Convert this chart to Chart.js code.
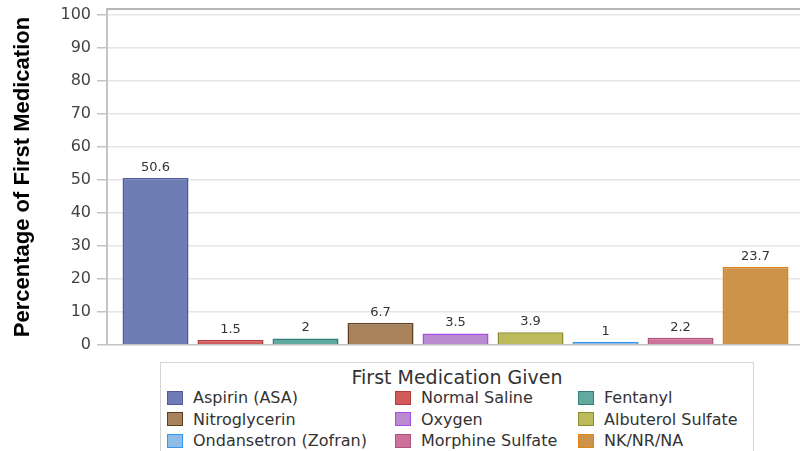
<!DOCTYPE html>
<html>
<head>
<meta charset="utf-8">
<script src="https://cdn.jsdelivr.net/npm/chart.js@4"></script>
<style>
  body { margin: 0; background: #fff; }
  #wrap { position: relative; width: 800px; height: 451px; overflow: hidden; }
  #legend {
    position: absolute; left: 160px; top: 362px; width: 594px; height: 110px;
    border: 1px solid #d4d4d4; box-sizing: border-box; background: #fff;
    font-family: 'DejaVu Sans', sans-serif; color: #333;
  }
  #legend .title {
    position: absolute; top: 3px; left: 0; width: 100%; text-align: center;
    font-size: 19px; line-height: 22px;
  }
  #legend .items {
    position: absolute; top: 24px; left: 6px;
    display: grid; grid-template-columns: 228px 183px 170px; grid-auto-rows: 21.5px;
  }
  #legend .item { display: flex; align-items: center; font-size: 16px; white-space: nowrap; }
  #legend .swatch { width: 16px; height: 14px; box-sizing: border-box; border: 1.5px solid; margin-right: 10px; }
</style>
</head>
<body>
<div id="wrap">
  <canvas id="chart" width="800" height="451"></canvas>
  <div id="legend"></div>
</div>
<script>
const medications = ['Aspirin (ASA)', 'Normal Saline', 'Fentanyl', 'Nitroglycerin', 'Oxygen',
                     'Albuterol Sulfate', 'Ondansetron (Zofran)', 'Morphine Sulfate', 'NK/NR/NA'];
const percentages = [50.6, 1.5, 2, 6.7, 3.5, 3.9, 1, 2.2, 23.7];
const fillColors = ['#6f7db5', '#d25b5b', '#62a9a0', '#a8825a', '#b98ad0',
                    '#bcbb5c', '#8fbde8', '#cc7199', '#cd9449'];
const borderColors = ['#4e5c9c', '#b53a3a', '#2f7f76', '#5e4020', '#a64ee8',
                      '#8d8c2c', '#3597ef', '#b3527f', '#e0841a'];
const legendTitle = 'First Medication Given';
const axisTitle = 'Percentage of First Medication';

Chart.defaults.font.family = "'DejaVu Sans', sans-serif";

// valeurs au-dessus des barres
const valueLabels = {
    id: 'valueLabels',
    afterDatasetsDraw(chart) {
        const ctx = chart.ctx;
        const meta = chart.getDatasetMeta(0);
        ctx.save();
        ctx.font = "13px 'DejaVu Sans', sans-serif";
        ctx.fillStyle = '#333';
        ctx.textAlign = 'center';
        ctx.textBaseline = 'alphabetic';
        meta.data.forEach((bar, i) => {
            ctx.fillText(String(percentages[i]), bar.x, bar.y - 7);
        });
        ctx.restore();
    }
};

// trait du cadre en haut
const topFrame = {
    id: 'topFrame',
    afterDraw(chart) {
        const { ctx, chartArea } = chart;
        ctx.save();
        ctx.strokeStyle = '#b6b6b6';
        ctx.lineWidth = 2;
        ctx.beginPath();
        ctx.moveTo(chartArea.left, chartArea.top);
        ctx.lineTo(chartArea.right, chartArea.top);
        ctx.stroke();
        ctx.restore();
    }
};

new Chart(document.getElementById('chart'), {
    type: 'bar',
    data: {
        datasets: [{
            label: legendTitle,
            data: percentages.map((v, i) => ({ x: i, y: v })),
            backgroundColor: fillColors,
            borderColor: borderColors,
            borderWidth: 1.5,
            barPercentage: 0.88,
            categoryPercentage: 1
        }]
    },
    options: {
        responsive: false,
        animation: false,
        layout: { padding: { top: 9, bottom: 106, right: 0, left: 0 } },
        plugins: {
            legend: { display: false },
            tooltip: { enabled: false }
        },
        scales: {
            x: {
                type: 'linear',
                display: false,
                offset: false,
                min: -0.647,
                max: 8.593
            },
            y: {
                min: 0,
                max: 101.8,
                afterFit: s => {
                    s.width = 107;
                    s.paddingTop = 0;
                    s.paddingBottom = 0;
                },
                ticks: {
                    stepSize: 10,
                    includeBounds: false,
                    color: '#444',
                    padding: 6,
                    font: { size: 16 }
                },
                grid: {
                    color: c => c.tick && c.tick.value === 0 ? '#c4c4c4' : '#e6e6e6',
                    tickColor: '#c4c4c4',
                    tickLength: 10,
                    lineWidth: 1.5
                },
                border: { color: '#c4c4c4', width: 2 },
                title: {
                    display: true,
                    text: axisTitle,
                    color: '#000',
                    font: { family: "'Liberation Sans', Arial, sans-serif", size: 22, weight: 'bold' },
                    padding: { top: 10, bottom: 0 }
                }
            }
        }
    },
    plugins: [valueLabels, topFrame]
});

// légende HTML sur trois colonnes
const legend = document.getElementById('legend');
legend.innerHTML = `<div class="title">${legendTitle}</div><div class="items">` +
    medications.map((m, i) =>
        `<div class="item"><span class="swatch" style="background:${fillColors[i]};border-color:${borderColors[i]}"></span>${m}</div>`
    ).join('') + '</div>';
</script>
</body>
</html>
